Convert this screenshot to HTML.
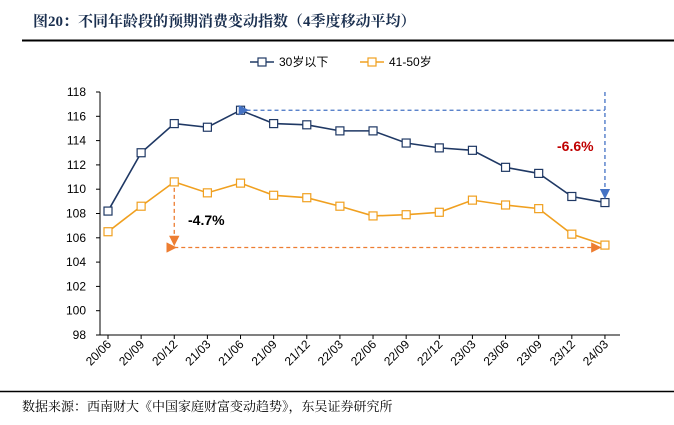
<!DOCTYPE html><html><head><meta charset="utf-8"><style>
body{margin:0;background:#fff;font-family:"Liberation Sans","Noto Sans CJK SC",sans-serif}
</style></head><body>
<svg width="674" height="425" style="display:block">
<text x="33" y="26" font-size="15" font-weight="bold" fill="#1a2f4f" font-family="'Liberation Serif','Noto Serif CJK SC',serif">图20：不同年龄段的预期消费变动指数（4季度移动平均）</text>
<line x1="22" y1="40.5" x2="674" y2="40.5" stroke="#000" stroke-width="2"/>
<line x1="0" y1="391.5" x2="674" y2="391.5" stroke="#000" stroke-width="1.5"/>
<text x="22" y="411" font-size="13" fill="#000" font-family="'Noto Serif CJK SC',serif">数据来源：西南财大《中国家庭财富变动趋势》，东吴证券研究所</text>
<g font-size="12">
<g><line x1="250" y1="62" x2="274" y2="62" stroke="#1f3864" stroke-width="1.5"/><rect x="258" y="58" width="8" height="8" fill="#fff" stroke="#1f3864" stroke-width="1.2"/><text x="279" y="66">30岁以下</text></g>
<g><line x1="360" y1="62" x2="384" y2="62" stroke="#f0a020" stroke-width="1.5"/><rect x="368" y="58" width="8" height="8" fill="#fff" stroke="#f0a020" stroke-width="1.2"/><text x="389" y="66">41-50岁</text></g>
</g>
<g id="plot"></g>
</svg>
<script>
const categories=["20/06","20/09","20/12","21/03","21/06","21/09","21/12","22/03","22/06","22/09","22/12","23/03","23/06","23/09","23/12","24/03"];
const under30=[108.2,113.0,115.4,115.1,116.5,115.4,115.3,114.8,114.8,113.8,113.4,113.2,111.8,111.3,109.4,108.9];
const age41to50=[106.5,108.6,110.6,109.7,110.5,109.5,109.3,108.6,107.8,107.9,108.1,109.1,108.7,108.4,106.3,105.4];
const yTicks=[98,100,102,104,106,108,110,112,114,116,118];
const NS="http://www.w3.org/2000/svg";
const g=document.getElementById('plot');
const x=i=>108+i*33.13, y=v=>335-(v-98)*12.15;
function mk(t,a,p){const e=document.createElementNS(NS,t);for(const k in a)e.setAttribute(k,a[k]);(p||g).appendChild(e);return e;}
let ax=mk('line',{x1:100,y1:92,x2:100,y2:335,stroke:'#000'});


let bx=mk('line',{x1:100,y1:335,x2:620,y2:335,stroke:'#000'});


yTicks.forEach(v=>{mk('line',{x1:96,y1:y(v),x2:100,y2:y(v),stroke:'#000'});
let t=mk('text',{x:86,y:y(v)+4,'font-size':12,'text-anchor':'end'});t.textContent=v;

});
categories.forEach((c,i)=>{mk('line',{x1:x(i),y1:335,x2:x(i),y2:339,stroke:'#000'});
let t=mk('text',{x:x(i)+4,y:345,'font-size':12,'text-anchor':'end',transform:`rotate(-45 ${x(i)+4} 345)`});t.textContent=c;

});
function series(d,col,name){const s=mk('g',{});
mk('polyline',{points:d.map((v,i)=>x(i)+','+y(v)).join(' '),fill:'none',stroke:col,'stroke-width':1.6},s);
d.forEach((v,i)=>{let r=mk('rect',{x:x(i)-4,y:y(v)-4,width:8,height:8,fill:'#fff',stroke:col,'stroke-width':1.2},s);

});}
series(under30,'#1f3864','series-under30');
series(age41to50,'#f0a020','series-41-50');
// annotations
const defs=mk('defs',{});
function arrow(id,col){const m=mk('marker',{id:id,markerWidth:8,markerHeight:8,refX:6,refY:4,orient:'auto'},defs);mk('path',{d:'M0,0 L8,4 L0,8 z',fill:col},m);}
arrow('ab','#4472c4');arrow('ao','#ed7d31');
const i0=4,i1=15,j0=2;
let l1=mk('line',{x1:x(i0)+6,y1:y(under30[i0]),x2:x(i1),y2:y(under30[i0]),stroke:'#4472c4','stroke-dasharray':'4,3','stroke-width':1.3,'marker-start':'url(#ab)'});

let l2=mk('line',{x1:x(i1),y1:92,x2:x(i1),y2:y(under30[i1])-6,stroke:'#4472c4','stroke-dasharray':'4,3','stroke-width':1.3,'marker-end':'url(#ab)'});

let l3=mk('line',{x1:x(j0),y1:y(age41to50[j0])+6,x2:x(j0),y2:y(105.2)-4,stroke:'#ed7d31','stroke-dasharray':'4,3','stroke-width':1.3,'marker-end':'url(#ao)'});

let l4=mk('line',{x1:x(j0),y1:y(105.2),x2:x(i1)-6,y2:y(105.2),stroke:'#ed7d31','stroke-dasharray':'4,3','stroke-width':1.3,'marker-start':'url(#ao)','marker-end':'url(#ao)'});

let t1=mk('text',{x:557,y:151,'font-size':14,'font-weight':'bold',fill:'#c00000'});t1.textContent='-6.6%';

let t2=mk('text',{x:188,y:225,'font-size':14,'font-weight':'bold',fill:'#000'});t2.textContent='-4.7%';

</script></body></html>
